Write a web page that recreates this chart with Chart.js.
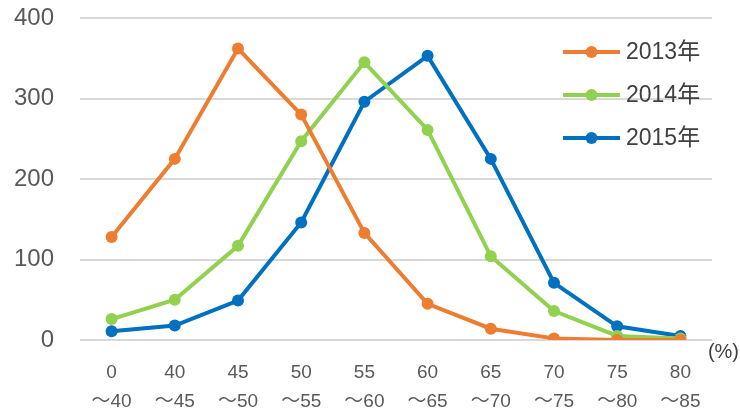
<!DOCTYPE html>
<html>
<head>
<meta charset="utf-8">
<script src="https://cdn.jsdelivr.net/npm/chart.js@4.4.1/dist/chart.umd.min.js"></script>
<style>
  html, body { margin: 0; padding: 0; background: #ffffff; }
  #wrap { width: 740px; height: 412px; position: relative; }
</style>
</head>
<body>
<div id="wrap"><canvas id="c" width="740" height="412"></canvas></div>
<script>
// Score bands (lower bound / upper bound)
const bandFrom = ['0', '40', '45', '50', '55', '60', '65', '70', '75', '80'];
const bandTo = ['～40', '～45', '～50', '～55', '～60', '～65', '～70', '～75', '～80', '～85'];

const seriesNames = ['2013年', '2014年', '2015年'];
const values2013 = [128, 225, 362, 280, 133, 45, 14, 2, 0, 0];
const values2014 = [26, 50, 117, 247, 345, 261, 104, 36, 5, 2];
const values2015 = [11, 18, 49, 146, 296, 353, 225, 71, 17, 5];

const yTicks = [0, 100, 200, 300, 400];
const unitLabel = '(%)';

const colors = ['#ED7D31', '#92D050', '#0070C0'];
const FONT = '"Liberation Sans", "Noto Sans CJK JP", sans-serif';

const labels = bandFrom.map((f, i) => [f, bandTo[i]]);
const seriesValues = [values2013, values2014, values2015];

const datasets = seriesNames.map((name, i) => ({
  label: name,
  data: seriesValues[i],
  borderColor: colors[i],
  backgroundColor: colors[i],
  borderWidth: 4,
  pointRadius: 6,
  pointHoverRadius: 6,
  pointBorderWidth: 0,
  tension: 0
}));

// Draws the series key inside the plot and the unit label beside the x axis
const annotations = {
  id: 'annotations',
  afterDraw(chart) {
    const ctx = chart.ctx;
    const area = chart.chartArea;
    ctx.save();
    const lx = 563, lw = 57;
    const rows = [52, 95, 138];
    chart.data.datasets.forEach((ds, i) => {
      const y = rows[i];
      ctx.strokeStyle = ds.borderColor;
      ctx.lineWidth = 4;
      ctx.beginPath();
      ctx.moveTo(lx, y);
      ctx.lineTo(lx + lw, y);
      ctx.stroke();
      ctx.fillStyle = ds.borderColor;
      ctx.beginPath();
      ctx.arc(lx + lw / 2, y, 6, 0, Math.PI * 2);
      ctx.fill();
      ctx.fillStyle = '#404040';
      ctx.font = '23px ' + FONT;
      ctx.textAlign = 'left';
      ctx.textBaseline = 'middle';
      ctx.fillText(ds.label, lx + lw + 6, y + 1);
    });
    ctx.fillStyle = '#404040';
    ctx.font = '20px ' + FONT;
    ctx.textAlign = 'right';
    ctx.textBaseline = 'middle';
    ctx.fillText(unitLabel, chart.width - 1, area.bottom + 12);
    ctx.restore();
  }
};

new Chart(document.getElementById('c'), {
  type: 'line',
  data: { labels, datasets },
  options: {
    responsive: false,
    animation: false,
    devicePixelRatio: 1,
    layout: { padding: { top: 18, right: 28, bottom: 0, left: 0 } },
    plugins: {
      legend: { display: false },
      tooltip: { enabled: false },
      title: { display: false }
    },
    scales: {
      x: {
        offset: true,
        grid: { display: false },
        border: { display: false },
        ticks: {
          color: '#595959',
          font: { family: FONT, size: 19, lineHeight: 1.55 },
          padding: 10,
          maxRotation: 0,
          autoSkip: false
        },
        afterFit(scale) {
          scale.height = 72;
          scale.paddingTop = 0;
          scale.paddingBottom = 0;
        }
      },
      y: {
        min: 0,
        max: 400,
        afterBuildTicks(scale) { scale.ticks = yTicks.map(v => ({ value: v })); },
        grid: { color: '#d9d9d9', lineWidth: 2, drawTicks: false },
        border: { display: false },
        ticks: {
          color: '#595959',
          font: { family: FONT, size: 24 },
          padding: 26
        },
        afterFit(scale) {
          scale.width = 80;
          scale.paddingTop = 0;
          scale.paddingBottom = 0;
        }
      }
    }
  },
  plugins: [annotations]
});
</script>
</body>
</html>
